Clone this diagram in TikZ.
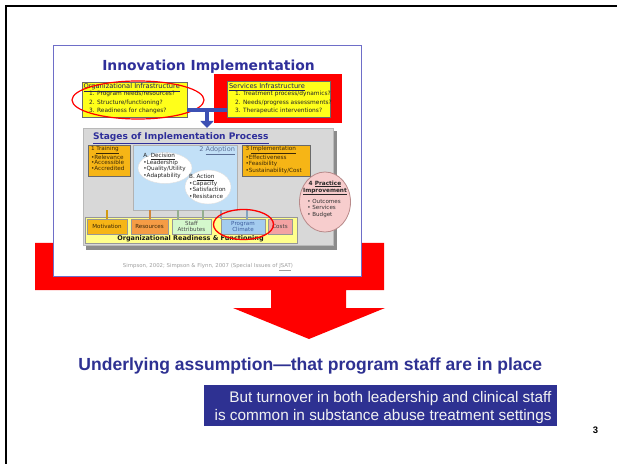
\documentclass[tikz,border=0pt]{standalone}
\usepackage{fontspec}
\setmainfont{Liberation Sans}
\newfontfamily\slidefont{DejaVu Sans}
\usetikzlibrary{shapes.geometric,arrows.meta}
\definecolor{navy}{HTML}{2E3192}
\definecolor{slideblue}{HTML}{2F2F9A}
\definecolor{frameblue}{HTML}{6E6EC8}
\definecolor{gold}{HTML}{F6B516}
\definecolor{orng}{HTML}{F59C45}
\definecolor{barYellow}{HTML}{FFFF8C}
\definecolor{infoYellow}{HTML}{FFFF1A}
\definecolor{adoptBlue}{HTML}{C2E0F7}
\definecolor{climBlue}{HTML}{A4CCEF}
\definecolor{staffGreen}{HTML}{D4F8CC}
\definecolor{costPink}{HTML}{F3A3A3}
\definecolor{practicePink}{HTML}{F7CDCD}
\definecolor{practiceRim}{HTML}{B88A8A}
\definecolor{linkBlue}{HTML}{3C50B4}
\definecolor{panelGray}{HTML}{D8D8D8}
\definecolor{panelShade}{HTML}{8C8C8C}
\definecolor{boxRim}{HTML}{6A6A6A}
\definecolor{labelInk}{HTML}{1E1E5A}
\definecolor{brownInk}{HTML}{3A2808}
\definecolor{adoptInk}{HTML}{5C6F96}
\definecolor{climInk}{HTML}{3E5E9E}
\begin{document}
\begin{tikzpicture}[x=1bp,y=-1bp,
  every node/.style={inner sep=0pt, outer sep=0pt},
  tinytext/.style={font=\slidefont\fontsize{5.7}{6.6}\selectfont, text=brownInk, align=left},
  infotitle/.style={font=\slidefont\fontsize{6.7}{7}\selectfont, text=labelInk},
  infolist/.style={font=\slidefont\fontsize{5.9}{8.6}\selectfont, text=black!85, align=left},
  stagebox/.style={draw=boxRim, line width=0.6bp, anchor=north west},
  infobox/.style={draw=boxRim, line width=0.8bp, fill=infoYellow, anchor=north west},
  rowbox/.style={draw=boxRim!70, line width=0.5bp, anchor=north west, minimum height=15bp},
  rowtext/.style={font=\slidefont\fontsize{5.6}{6.6}\selectfont, align=center, text=brownInk},
  ring/.style={ellipse, draw=red, line width=1.3bp},
  cloudshape/.style={ellipse, fill=white, draw=gray!25, line width=0.4bp},
  stub/.style={line width=2bp},
]
\useasboundingbox (0,0) rectangle (617,464);
\fill[white] (0,0) rectangle (617,464);

% page rule along the top and the left side
\draw[line width=2.3bp] (6.2,464) -- (6.2,6.2) -- (617,6.2);

% big red arrow behind the inset slide
\fill[red] (35,243) -- (384,243) -- (384,290) -- (346,290) -- (346,308)
  -- (385,308) -- (309,339) -- (233,308) -- (271,308) -- (271,290)
  -- (35,290) -- cycle;

% inset slide
\node[draw=frameblue, line width=0.9bp, fill=white, anchor=north west,
  minimum width=307.5bp, minimum height=231bp] (inset) at (53.5,45) {};
\node[font=\slidefont\bfseries\fontsize{13.9}{15}\selectfont, text=slideblue,
  anchor=base] (title) at (208.5,71) {Innovation Implementation};

% infrastructure boxes
\node[fill=red, anchor=north west, minimum width=128bp, minimum height=49bp]
  (svcback) at (214,74) {};
\node[infobox, minimum width=105bp, minimum height=35bp] (org) at (82,82) {};
\node[infobox, minimum width=103bp, minimum height=36bp] (svc) at (227,81) {};
\node[infotitle, anchor=base west] (orgtitle) at (83.5,88.3)
  {\underline{Organizational Infrastructure}};
\node[infolist, anchor=north west] (orglist) at (89,91.2)
  {1. Program needs/resources?\\2. Structure/functioning?\\3. Readiness for changes?};
\node[infotitle, anchor=base west] (svctitle) at (229,88.3)
  {\underline{Services Infrastructure}};
\node[infolist, anchor=north west] (svclist) at (235,91.2)
  {1. Treatment process/dynamics?\\2. Needs/progress assessments?\\3. Therapeutic interventions?};
\node[ring, line width=1.2bp, minimum width=132bp, minimum height=38bp] (orgring) at (138,100) {};

% stages panel
\fill[panelShade] (86,131) rectangle (336.5,250);
\node[draw=gray!55, line width=0.5bp, fill=panelGray, anchor=north west,
  minimum width=250bp, minimum height=117bp] (stages) at (83,128) {};
\node[font=\slidefont\bfseries\fontsize{9.1}{10}\selectfont, text=slideblue,
  anchor=base west] (stagetitle) at (93,140) {\underline{Stages of Implementation Process}};

% connector from the infrastructure boxes down to the panel
\coordinate (join) at (207,110);
\draw[linkBlue, line width=3.4bp] (org.east |- join) -- (svc.west |- join);
\draw[linkBlue, line width=3.4bp, -{Triangle[length=7bp, width=13bp]}]
  (join) -- (stages.north -| join);

% 1 Training
\node[stagebox, fill=gold, minimum width=42bp, minimum height=31bp] (train) at (88,145) {};
\node[tinytext, font=\slidefont\fontsize{5.7}{5.9}\selectfont, anchor=north west] (traintext)
  at (91,146.3) {1 \underline{Training}\\•Relevance\\•Accessible\\•Accredited};

% 2 Adoption
\node[stagebox, draw=gray!60, fill=adoptBlue, minimum width=104bp, minimum height=65bp] (adopt) at (133,145) {};
\node[font=\slidefont\fontsize{6.6}{7}\selectfont, text=adoptInk, anchor=north east]
  (adoptlabel) at (235,146.5) {2 \underline{Adoption}};
\node[cloudshape, minimum width=54bp, minimum height=31bp] (decision) at (165,168) {};
\node[tinytext, text=black!85] (decisiontext) at (164.5,165.8)
  {A. \underline{Decision}\\•Leadership\\•Quality/Utility\\•Adaptability};
\node[cloudshape, minimum width=46bp, minimum height=34bp] (action) at (208,187) {};
\node[tinytext, text=black!85] (actiontext) at (207.5,186.3)
  {B. \underline{Action}\\•Capacity\\•Satisfaction\\•Resistance};

% 3 Implementation
\node[stagebox, fill=gold, minimum width=68bp, minimum height=31bp] (impl) at (242,145) {};
\node[tinytext, anchor=north west] (impltext) at (245.5,146.3)
  {3 \underline{Implementation}\\•Effectiveness\\•Feasibility\\•Sustainability/Cost};

% 4 Practice Improvement
\node[ellipse, draw=practiceRim, line width=0.8bp, fill=practicePink,
  minimum width=51bp, minimum height=60bp] (practice) at (325,202) {};
\node[font=\slidefont\bfseries\fontsize{5.8}{7}\selectfont, text=black!85, align=center]
  (practicehead) at (325,188) {4 \underline{Practice}\\\underline{Improvement}};
\node[tinytext, text=black!80, font=\slidefont\fontsize{5.6}{7}\selectfont]
  (practicelist) at (324,208.5) {• Outcomes\\• Services\\• Budget};

% organizational readiness bar
\node[draw=boxRim!70, line width=0.5bp, fill=barYellow, anchor=north west,
  minimum width=212bp, minimum height=26bp] (readiness) at (85,217) {};
\node[rowbox, fill=gold, minimum width=40bp] (motiv) at (87,219) {};
\node[rowbox, fill=orng, minimum width=37bp] (resrc) at (131,219) {};
\node[rowbox, fill=staffGreen, minimum width=39bp] (staff) at (172,219) {};
\node[rowbox, fill=climBlue, minimum width=44bp] (climate) at (221,219) {};
\node[rowbox, fill=costPink, minimum width=24bp] (costs) at (268,219) {};
\node[rowtext] at (motiv.center) (motivtext) {Motivation};
\node[rowtext] at (resrc.center) (resrctext) {Resources};
\node[rowtext, text=black!70] at (staff.center) (stafftext) {Staff\\Attributes};
\node[rowtext, text=climInk] at (climate.center) (climtext) {Program\\Climate};
\node[rowtext, text=black!75] at (costs.center) (coststext) {Costs};
\node[font=\slidefont\bfseries\fontsize{6.5}{7}\selectfont, text=black!90, anchor=base]
  (readinesstext) at (190.5,240.6) {Organizational Readiness \& Functioning};

% short links from the readiness row up to the stages
\draw[stub, gold!85!black] (motiv.north) -- ++(0,-9);
\draw[stub, orng!85!black] (resrc.north) -- ++(0,-9);
\draw[stub, staffGreen!70!black] ([xshift=-13.5bp]staff.north) -- ++(0,-9);
\draw[stub, staffGreen!70!black] ([xshift=11.5bp]staff.north) -- ++(0,-9);
\draw[stub, climBlue!80!black] ([xshift=-22bp]climate.north) -- ++(0,-9);
\draw[stub, climBlue!80!black] ([xshift=4bp]climate.north) -- ++(0,-9);

\node[ring, minimum width=60bp, minimum height=30bp] (climring) at (243.5,224.5) {};

% citation line
\node[font=\slidefont\fontsize{5.4}{6}\selectfont, text=gray!75] (cite) at (208,267)
  {Simpson, 2002; Simpson \& Flynn, 2007 (Special Issues of \underline{JSAT})};

% headline and note
\node[font=\bfseries\fontsize{17.6}{20}\selectfont, text=navy, anchor=base]
  (headline) at (310.3,370) {Underlying assumption—that program staff are in place};
\node[fill=navy, anchor=north west, minimum width=352.7bp, minimum height=40.5bp]
  (note) at (204.3,385) {};
\node[font=\fontsize{15.4}{17.3}\selectfont, text=white!95!black, anchor=base east]
  (noteone) at (551.5,402.7) {But turnover in both leadership and clinical staff};
\node[font=\fontsize{15.4}{17.3}\selectfont, text=white!95!black, anchor=base east]
  (notetwo) at (551.5,420) {is common in substance abuse treatment settings};

% page number
\node[font=\bfseries\fontsize{9.5}{10}\selectfont] (pagenum) at (595.5,430) {3};
\end{tikzpicture}
\end{document}
